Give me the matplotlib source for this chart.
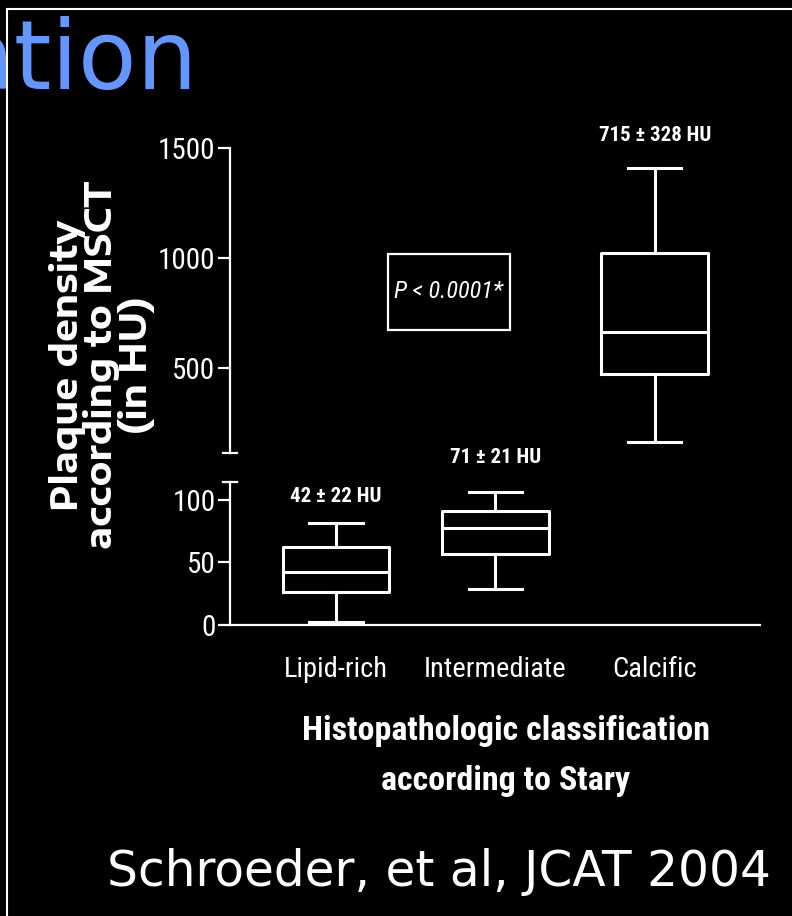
import matplotlib
matplotlib.use('Agg')
import matplotlib.pyplot as plt
from matplotlib.lines import Line2D
from matplotlib.patches import Rectangle

plt.rcParams['font.family'] = ['Roboto Condensed', 'DejaVu Sans']

categories = ['Lipid-rich', 'Intermediate', 'Calcific']
whislo = [2, 29, 164]
q1 = [26, 57, 473]
medians = [42, 77, 664]
q3 = [62, 91, 1023]
whishi = [81, 106, 1409]
mean_labels = ['42 ± 22 HU', '71 ± 21 HU', '715 ± 328 HU']
upper_ticks = [500, 1000, 1500]
lower_ticks = [0, 50, 100]
break_value = 114

W, H = 792, 916


def px(x, y):
    # pixel position on the slide -> figure fraction
    return x / W, 1 - y / H


fig = plt.figure(figsize=(W / 100, H / 100), dpi=100, facecolor='black')

left, right = 230, 760
ax_hi = fig.add_axes([left / W, 1 - 453 / H, (right - left) / W, (453 - 148) / H])
ax_lo = fig.add_axes([left / W, 1 - 625 / H, (right - left) / W, (625 - 482) / H])

stats = []
for c, lo, a, m, b, hi in zip(categories, whislo, q1, medians, q3, whishi):
    stats.append(dict(label=c, whislo=lo, q1=a, med=m, q3=b, whishi=hi))

lw_box = 2.2
lw_axis = 1.6
for ax in (ax_hi, ax_lo):
    ax.set_facecolor('none')
    props = dict(color='white', linewidth=lw_box)
    ax.bxp(stats, positions=range(len(categories)), widths=0.67, showfliers=False,
           boxprops=props, whiskerprops=props, capprops=props, medianprops=props)
    ax.set_xlim(-0.665, 2.66)
    ax.spines['top'].set_visible(False)
    ax.spines['right'].set_visible(False)
    ax.spines['left'].set_color('white')
    ax.spines['left'].set_linewidth(lw_axis)
    ax.tick_params(axis='y', colors='white', length=8.5, width=lw_axis,
                   labelsize=21, pad=2)

ax_hi.set_ylim(break_value, 1500)
ax_hi.set_yticks(upper_ticks)
ax_hi.set_xticks([])
ax_hi.spines['bottom'].set_visible(False)

ax_lo.set_ylim(0, break_value)
ax_lo.set_yticks(lower_ticks)
ax_lo.set_xticks(range(len(categories)))
ax_lo.set_xticklabels(categories)
ax_lo.spines['bottom'].set_color('white')
ax_lo.spines['bottom'].set_linewidth(lw_axis)
ax_lo.tick_params(axis='x', colors='white', length=0, labelsize=20.5, pad=22)

# little caps at the axis break
cap = 7 / (right - left)
ax_hi.plot([-cap, cap], [0, 0], transform=ax_hi.transAxes, color='white',
           lw=lw_axis, clip_on=False)
ax_lo.plot([-cap, cap], [1, 1], transform=ax_lo.transAxes, color='white',
           lw=lw_axis, clip_on=False)

# mean +- sd labels above each box
offsets = [27, 35, 33]
for i, lab in enumerate(mean_labels):
    ax = ax_hi if whishi[i] > break_value else ax_lo
    ax.annotate(lab, xy=(i, whishi[i]), xytext=(0, offsets[i]),
                textcoords='offset pixels', ha='center', va='center',
                fontsize=15, fontweight='bold', color='white',
                annotation_clip=False)

ax_lo.set_xlabel('Histopathologic classification\naccording to Stary',
                 fontsize=24.5, fontweight='bold', color='white', linespacing=1.75)
ax_lo.xaxis.set_label_coords((506 - left) / (right - left), -(756 - 625) / (625 - 482))
ax_lo.xaxis.label.set_verticalalignment('center')

fig.text(*px(102, 365), 'Plaque density\naccording to MSCT\n(in HU)',
         rotation=90, ha='center', va='center', multialignment='center',
         fontsize=26, fontweight='bold', color='white',
         family=['Encode Sans Expanded', 'DejaVu Sans'],
         linespacing=0.93)

# p value box
fig.add_artist(Rectangle(px(388, 330), 122 / W, 76 / H, transform=fig.transFigure,
                         fill=False, edgecolor='white', linewidth=lw_axis))
fig.text(*px(449, 292), 'P < 0.0001*', ha='center', va='center', fontsize=17.5,
         style='italic', color='white')

# slide pieces
fig.text(*px(198, 89), 'ation', ha='right', va='baseline', fontsize=69,
         color='#6496ff', family='DejaVu Sans')
fig.add_artist(Line2D([7 / W, 1], [1 - 9 / H, 1 - 9 / H], transform=fig.transFigure,
                      color='white', lw=1.5))
fig.add_artist(Line2D([7 / W, 7 / W], [0, 1 - 9 / H], transform=fig.transFigure,
                      color='white', lw=1.5))
fig.text(*px(107, 872), 'Schroeder, et al, JCAT 2004', ha='left', va='center',
         fontsize=35, color='white', family='DejaVu Sans')

fig.savefig('out.png', dpi=100, facecolor='black')
